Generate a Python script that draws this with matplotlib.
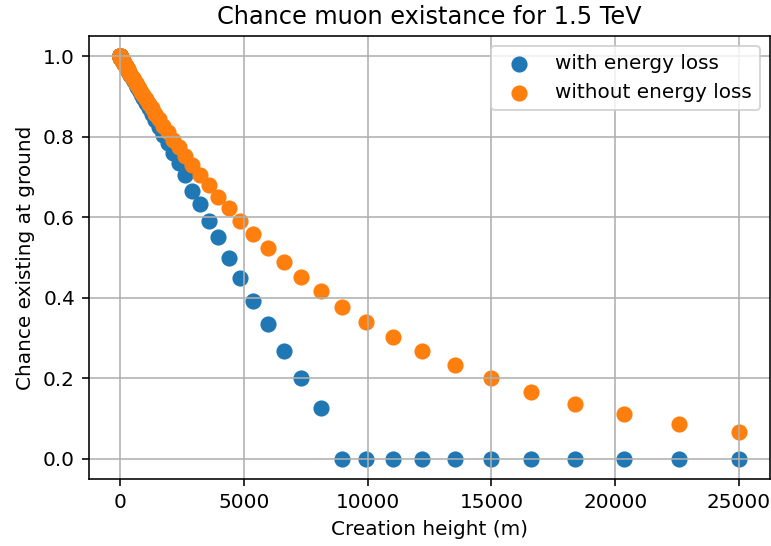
import matplotlib
matplotlib.use("Agg")
import matplotlib.pyplot as plt

# Creation heights (m)
heights = [
    1.0, 1.108, 1.227, 1.359, 1.506, 1.668, 1.847, 2.046, 2.267, 2.511,
    2.781, 3.081, 3.413, 3.780, 4.187, 4.638, 5.138, 5.691, 6.304, 6.983,
    7.735, 8.568, 9.491, 10.51, 11.65, 12.90, 14.29, 15.83, 17.53, 19.42,
    21.51, 23.83, 26.40, 29.24, 32.39, 35.88, 39.74, 44.02, 48.76, 54.01,
    59.83, 66.27, 73.41, 81.32, 90.07, 99.77, 110.5, 122.4, 135.6, 150.2,
    166.4, 184.3, 204.2, 226.2, 250.5, 277.5, 307.4, 340.5, 377.1, 417.8,
    462.7, 512.6, 567.8, 628.9, 696.7, 771.7, 854.8, 946.9, 1049, 1162,
    1287, 1426, 1579, 1749, 1938, 2146, 2377, 2633, 2917, 3231,
    3579, 3965, 4391, 4864, 5388, 5969, 6611, 7323, 8112, 8986,
    9954, 11025, 12213, 13528, 14985, 16599, 18386, 20367, 22560, 25000,
]

# Survival chance without energy loss
without_loss = [
    0.9999, 0.9999, 0.9999, 0.9999, 0.9998, 0.9998, 0.9998, 0.9998, 0.9998, 0.9997,
    0.9997, 0.9997, 0.9996, 0.9996, 0.9995, 0.9995, 0.9994, 0.9994, 0.9993, 0.9992,
    0.9992, 0.9991, 0.9990, 0.9989, 0.9987, 0.9986, 0.9985, 0.9983, 0.9981, 0.9979,
    0.9977, 0.9974, 0.9971, 0.9968, 0.9965, 0.9961, 0.9957, 0.9952, 0.9947, 0.9942,
    0.9935, 0.9929, 0.9921, 0.9912, 0.9903, 0.9893, 0.9881, 0.9868, 0.9854, 0.9839,
    0.9822, 0.9803, 0.9781, 0.9758, 0.9733, 0.9704, 0.9673, 0.9638, 0.9600, 0.9558,
    0.9512, 0.9460, 0.9404, 0.9342, 0.9274, 0.9199, 0.9116, 0.9026, 0.8927, 0.8818,
    0.8700, 0.8570, 0.8429, 0.8276, 0.8108, 0.7928, 0.7732, 0.7521, 0.7293, 0.7049,
    0.6789, 0.6511, 0.6218, 0.5907, 0.5582, 0.5241, 0.4890, 0.4527, 0.4157, 0.3781,
    0.341, 0.303, 0.268, 0.232, 0.201, 0.166, 0.136, 0.111, 0.087, 0.066,
]

# Survival chance with energy loss
with_loss = [
    0.9999, 0.9999, 0.9999, 0.9999, 0.9998, 0.9998, 0.9998, 0.9998, 0.9998, 0.9997,
    0.9997, 0.9997, 0.9996, 0.9996, 0.9995, 0.9995, 0.9994, 0.9994, 0.9993, 0.9992,
    0.9992, 0.9991, 0.9990, 0.9989, 0.9987, 0.9986, 0.9985, 0.9983, 0.9981, 0.9979,
    0.9977, 0.9974, 0.9971, 0.9968, 0.9965, 0.9961, 0.9957, 0.9952, 0.9947, 0.9942,
    0.9935, 0.9929, 0.9921, 0.9912, 0.9903, 0.9893, 0.9881, 0.9868, 0.9854, 0.9839,
    0.9820, 0.9800, 0.9777, 0.9754, 0.9728, 0.9697, 0.9665, 0.9628, 0.9588, 0.9543,
    0.9494, 0.9438, 0.9377, 0.9309, 0.9233, 0.9150, 0.9056, 0.8953, 0.8839, 0.8711,
    0.8570, 0.8413, 0.8240, 0.8048, 0.7834, 0.7599, 0.7339, 0.7052, 0.666, 0.632,
    0.591, 0.550, 0.4995, 0.450, 0.393, 0.334, 0.268, 0.202, 0.127, 0.0,
    0.0, 0.0, 0.0, 0.0, 0.0, 0.0, 0.0, 0.0, 0.0, 0.0,
]

series_labels = ["with energy loss", "without energy loss"]

fig = plt.figure(figsize=(771 / 144, 546 / 144), dpi=144)
ax = fig.add_axes([89 / 771, (546 - 479) / 546, (770 - 89) / 771, (479 - 36) / 546])

ax.scatter(heights, with_loss, s=50, color="#1f77b4", label=series_labels[0])
ax.scatter(heights, without_loss, s=50, color="#ff7f0e", label=series_labels[1])

ax.set_title("Chance muon existance for 1.5 TeV", fontsize=12)
ax.set_xlabel("Creation height (m)", fontsize=10)
ax.set_ylabel("Chance existing at ground", fontsize=10)
ax.grid(True)
ax.legend(loc="upper right", fontsize=10)

fig.savefig("out.png", dpi=144)
